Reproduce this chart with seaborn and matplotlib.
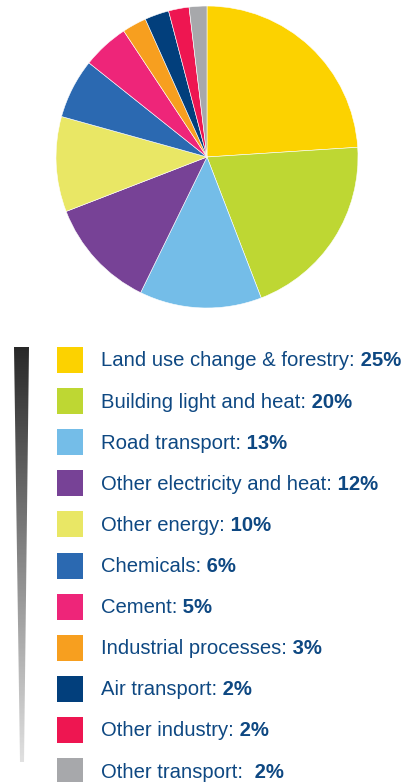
"""
Greenhouse gas emissions by sector: pie with a side legend.
"""

import matplotlib.pyplot as plt
import numpy as np
import seaborn as sns
from matplotlib.patches import Polygon, Rectangle

# Sectors, as listed in the legend
SECTORS = [
    "Land use change & forestry:",
    "Building light and heat:",
    "Road transport:",
    "Other electricity and heat:",
    "Other energy:",
    "Chemicals:",
    "Cement:",
    "Industrial processes:",
    "Air transport:",
    "Other industry:",
    "Other transport: ",
]
PCT_LABELS = ["25%", "20%", "13%", "12%", "10%", "6%", "5%", "3%", "2%", "2%", "2%"]
# slice sizes as drawn in the pie (percent)
SHARES = [24.0, 20.2, 13.1, 11.9, 10.2, 6.4, 5.0, 2.6, 2.6, 2.2, 1.9]

COLORS = sns.color_palette([
    "#FCD200", "#BED733", "#74BDE8", "#774296", "#E9E765", "#2B69B1",
    "#EE2579", "#F79F1F", "#023F7C", "#EE1651", "#A7A8AB",
])
TEXT_COLOR = "#0E4882"

W, H = 406, 782

sns.set_theme(style="white")
plt.rcParams["font.family"] = ["Liberation Sans", "DejaVu Sans"]

fig = plt.figure(figsize=(W / 100, H / 100), dpi=100)

# Pie, centre (207, 157) px, radius 151 px
cx, cy, r = 207, 157, 151
ax_pie = fig.add_axes([(cx - r) / W, 1 - (cy + r) / H, 2 * r / W, 2 * r / H])
ax_pie.pie(
    SHARES,
    colors=COLORS,
    startangle=90,
    counterclock=False,
    radius=1,
    wedgeprops=dict(edgecolor="white", linewidth=0.4),
)
ax_pie.set_xlim(-1.0, 1.0)
ax_pie.set_ylim(-1.0, 1.0)
ax_pie.set_aspect("equal")
ax_pie.axis("off")

# Overlay in pixel coordinates for the legend
ax = fig.add_axes([0, 0, 1, 1])
ax.set_xlim(0, W)
ax.set_ylim(H, 0)
ax.axis("off")

# tapered gradient bar on the left
bar_top, bar_bot = 347, 762
grad = np.linspace(0.16, 0.88, 256).reshape(-1, 1)
img = ax.imshow(grad, cmap="gray", vmin=0, vmax=1, aspect="auto",
                extent=[14, 29, bar_bot, bar_top], zorder=1)
wedge = Polygon([[14, bar_top], [29, bar_top], [24, bar_bot], [20, bar_bot]],
                closed=True, transform=ax.transData, facecolor="none", edgecolor="none")
ax.add_patch(wedge)
img.set_clip_path(wedge)
ax.set_xlim(0, W)
ax.set_ylim(H, 0)

row0, step, sq = 347, 41.1, 26
for i, (name, pct) in enumerate(zip(SECTORS, PCT_LABELS)):
    top = row0 + i * step
    ax.add_patch(Rectangle((57, top), sq, sq, facecolor=COLORS[i], edgecolor="none"))
    t = ax.text(101, top + sq / 2 + 1, name, fontsize=14.6, color=TEXT_COLOR,
                va="center", ha="left")
    ax.annotate(" " + pct, xy=(1, 0.5), xycoords=t, va="center", ha="left",
                fontsize=14.6, fontweight="bold", color=TEXT_COLOR)

fig.savefig("out.png", dpi=100)
